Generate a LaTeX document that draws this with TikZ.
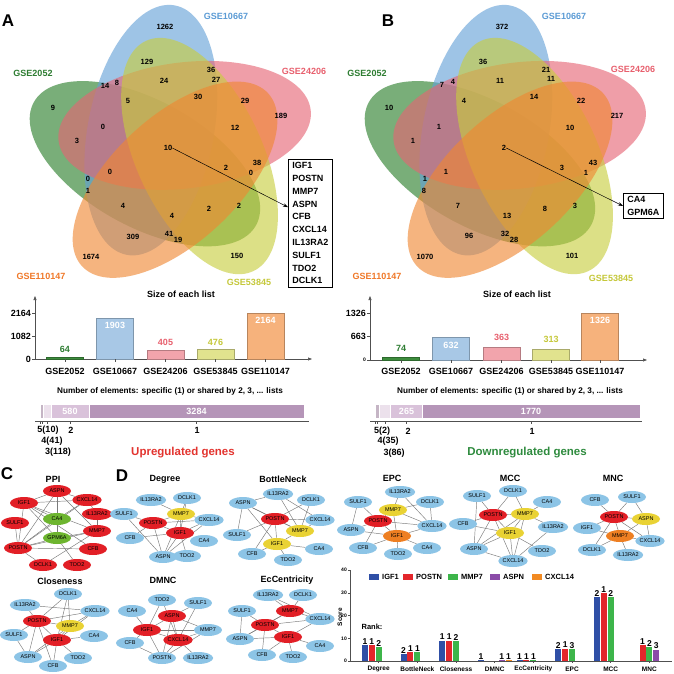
\documentclass[tikz,border=0pt]{standalone}
\usepackage{fontspec}
\setmainfont{Liberation Sans}
\usetikzlibrary{shapes.geometric,arrows.meta}
\pgfdeclarelayer{bg}
\pgfsetlayers{bg,main}

\definecolor{vgrn}{RGB}{40,125,40}
\definecolor{vblu}{RGB}{100,160,215}
\definecolor{vred}{RGB}{230,100,115}
\definecolor{vyel}{RGB}{200,205,60}
\definecolor{vora}{RGB}{240,135,50}
\definecolor{tgrn}{HTML}{2E7D32}
\definecolor{tblu}{HTML}{5B9BD5}
\definecolor{tred}{HTML}{E8606E}
\definecolor{tyel}{HTML}{C5C83A}
\definecolor{tora}{HTML}{F07828}
\definecolor{bgrn}{HTML}{3C8C3C}
\definecolor{bblu}{HTML}{A8C8E6}
\definecolor{bred}{HTML}{F2A4AC}
\definecolor{byel}{HTML}{E1E38E}
\definecolor{bora}{HTML}{F6B27C}
\definecolor{s1}{HTML}{B595B8}
\definecolor{s2}{HTML}{D9C2DA}
\definecolor{s3}{HTML}{ECE1EC}
\definecolor{s4}{HTML}{C5B5C5}
\definecolor{s5}{HTML}{8F8F8F}
\definecolor{nblu}{HTML}{8CC4E6}
\definecolor{nred}{HTML}{E21F26}
\definecolor{nyel}{HTML}{E9D234}
\definecolor{nora}{HTML}{EE7F22}
\definecolor{ngrn}{HTML}{6DB52F}
\definecolor{ecol}{HTML}{7A7A7A}
\definecolor{axcol}{HTML}{505050}
\definecolor{cigf}{HTML}{2F4FA6}
\definecolor{cpos}{HTML}{E3262B}
\definecolor{cmmp}{HTML}{3DB54A}
\definecolor{casp}{HTML}{8B4CA8}
\definecolor{ccx}{HTML}{F28A22}
\definecolor{upred}{HTML}{E3342F}
\definecolor{dngrn}{HTML}{2E8B3E}

\tikzset{
  panel/.style={font=\fontsize{17}{17}\selectfont\bfseries,inner sep=0pt},
  setname/.style={font=\fontsize{9}{9}\selectfont\bfseries,inner sep=0pt},
  num/.style={font=\fontsize{7.5}{7.5}\selectfont\bfseries,inner sep=0pt},
  lbl/.style={font=\fontsize{9}{9}\selectfont\bfseries,inner sep=0pt},
  ticklbl/.style={font=\fontsize{5}{5}\selectfont\bfseries,inner sep=0pt},
  genebox/.style={draw,line width=0.8pt,align=left,font=\fontsize{9}{12.8}\selectfont\bfseries,inner xsep=4pt,inner ysep=3pt},
  gene/.style={ellipse,minimum width=28pt,minimum height=12pt,inner sep=0pt,font=\fontsize{5.5}{5.5}\selectfont},
  gblue/.style={gene,fill=nblu},
  gred/.style={gene,fill=nred},
  gyel/.style={gene,fill=nyel},
  gora/.style={gene,fill=nora},
  ggrn/.style={gene,fill=ngrn},
  link/.style={draw=ecol,line width=0.45pt},
  nettitle/.style={font=\fontsize{9}{9}\selectfont\bfseries,inner sep=0pt},
  axline/.style={draw=axcol,line width=0.6pt},
  arr/.style={-{Triangle[length=4pt,width=3pt]}},
  rank/.style={font=\fontsize{8.5}{8.5}\selectfont\bfseries,inner sep=0pt},
  leg/.style={font=\fontsize{7.5}{7.5}\selectfont\bfseries,inner sep=0pt},
  catlbl/.style={font=\fontsize{6.5}{6.5}\selectfont\bfseries,inner sep=0pt},
  regtitle/.style={font=\fontsize{11.5}{11.5}\selectfont\bfseries,inner sep=0pt},
}

\begin{document}
\begin{tikzpicture}[x=1pt,y=-1pt]
\useasboundingbox (0,0) rectangle (673,674);
\begin{pgfonlayer}{bg}
\fill[white] (0,0) rectangle (673,674);
\end{pgfonlayer}

% ---------- A: Venn of upregulated genes
\foreach \k/\c in {2/vgrn,1/vblu,0/vred,4/vyel,3/vora}
  \fill[\c,fill opacity=0.62,shift={(171,151)},rotate=7+72*\k] (55:29pt) ellipse [x radius=127pt,y radius=63pt];
\node[panel] (pA) at (8,21) {A};
\node[setname,text=tblu] (la1) at (226,16) {GSE10667};
\node[setname,text=tgrn] (la2) at (33,73) {GSE2052};
\node[setname,text=tred] (la3) at (304,71) {GSE24206};
\node[setname,text=tora] (la4) at (41,276) {GSE110147};
\node[setname,text=tyel] (la5) at (249,282) {GSE53845};
\foreach \x/\y/\v [count=\i] in {165/27/1262,147/62/129,211/70/36,216/80/27,164/81/24,105/86/14,117/83/8,53/108/9,128/101/5,198/97/30,245/101/29,281/116/189,103/127/0,235/128/12,77/141/3,168/148/10,257/163/38,226/168/2,251/173/0,110/172/0,88/179/0,88/191/1,123/206/4,239/206/2,209/209/2,172/216/4,133/237/309,169/234/41,178/240/19,91/257/1674,237/256/150}
  \node[num] (a\i) at (\x,\y) {\v};
\node[genebox,anchor=north west] (boxA) at (288,159) {IGF1\\POSTN\\MMP7\\ASPN\\CFB\\CXCL14\\IL13RA2\\SULF1\\TDO2\\DCLK1};
\draw[-{Stealth[length=5pt,width=3.5pt]},line width=0.5pt] (a16.east) -- ([yshift=16pt]boxA.west);

% ---------- B: Venn of downregulated genes
\foreach \k/\c in {2/vgrn,1/vblu,0/vred,4/vyel,3/vora}
  \fill[\c,fill opacity=0.62,shift={(506,151)},rotate=7+72*\k] (55:29pt) ellipse [x radius=127pt,y radius=63pt];
\node[panel] (pB) at (388,21) {B};
\node[setname,text=tblu] (lb1) at (564,16) {GSE10667};
\node[setname,text=tgrn] (lb2) at (367,73) {GSE2052};
\node[setname,text=tred] (lb3) at (633,69) {GSE24206};
\node[setname,text=tora] (lb4) at (377,276) {GSE110147};
\node[setname,text=tyel] (lb5) at (611,278) {GSE53845};
\foreach \x/\y/\v [count=\i] in {502/27/372,483/62/36,546/70/21,551/79/11,500/81/11,442/85/7,453/82/4,389/108/10,464/101/4,534/97/14,581/101/22,617/116/217,439/127/1,570/128/10,413/141/1,504/148/2,593/163/43,562/168/3,586/173/1,446/172/1,425/179/1,424/191/8,458/206/7,575/206/3,545/209/8,507/216/13,469/236/96,505/234/32,514/240/28,425/257/1070,572/256/101}
  \node[num] (b\i) at (\x,\y) {\v};
\node[genebox,anchor=north west] (boxB) at (623,193) {CA4\\GPM6A};
\draw[-{Stealth[length=5pt,width=3.5pt]},line width=0.5pt] (b16.east) -- (boxB.west);

% ---------- list sizes, A
\node[lbl] (sizeA) at (181,294) {Size of each list};
\draw[axline,arr] (35,359) -- (35,296);
\draw[axline,arr] (35,359) -- (312,359);
\foreach \y/\v [count=\i] in {313/2164,336/1082,359/0}{
  \draw[axline] (32,\y) -- (35,\y);
  \node[lbl,anchor=east] (ya\i) at (31,\y) {\v};
}
\foreach \x/\t/\f in {65/357.6/bgrn,115/318.5/bblu,165.5/350.4/bred,215.5/348.9/byel,265.5/313/bora}
  \filldraw[fill=\f,draw=\f!75!black,line width=0.4pt] (\x-18.5,359) rectangle (\x+18.5,\t);
\foreach \x/\n [count=\i] in {65/GSE2052,115/GSE10667,165.5/GSE24206,215.5/GSE53845,265.5/GSE110147}{
  \draw[axline] (\x,359) -- (\x,362);
  \node[lbl] (ca\i) at (\x,371) {\n};
}
\node[lbl,text=tgrn] (va1) at (65,349) {64};
\node[lbl,text=white] (va2) at (115,325) {1903};
\node[lbl,text=tred] (va3) at (165.5,342) {405};
\node[lbl,text=tyel] (va4) at (215.5,342) {476};
\node[lbl,text=white] (va5) at (265.5,320) {2164};

\node[font=\fontsize{8.2}{8.2}\selectfont\bfseries,inner sep=0pt] (shA) at (170,391) {Number of elements: specific (1) or shared by 2, 3, ... lists};
\foreach \l/\r/\f in {40/40.65/s5,40.65/43.3/s4,43.3/51/s3,51/89/s2,89/304/s1}
  \filldraw[fill=\f,draw=white,line width=0.5pt] (\l,404) rectangle (\r,418);
\node[lbl,text=white] (sa2) at (70,411) {580};
\node[lbl,text=white] (sa1) at (196.5,411) {3284};
\draw[axline] (35,421) -- (309,421);
\foreach \x in {40.3,42,47,70,196.5}
  \draw[axline] (\x,421) -- (\x,424);
\node[lbl] (ka1) at (48,430) {5(10)};
\node[lbl] (ka2) at (71,430) {2};
\node[lbl] (ka3) at (197,430) {1};
\node[lbl] (ka4) at (52,441) {4(41)};
\node[lbl] (ka5) at (58,452) {3(118)};
\node[regtitle,text=upred] (upA) at (183,453) {Upregulated genes};

% ---------- list sizes, B
\node[lbl] (sizeB) at (517,294) {Size of each list};
\draw[axline,arr] (370,360) -- (370,296);
\draw[axline,arr] (370,360) -- (647,360);
\foreach \y/\v [count=\i] in {313/1326,336.5/663}{
  \draw[axline] (367,\y) -- (370,\y);
  \node[lbl,anchor=east] (yb\i) at (366,\y) {\v};
}
\draw[axline] (367,360) -- (370,360);
\node[ticklbl,anchor=east] (yb3) at (366,360) {0};
\foreach \x/\t/\f in {401/357.4/bgrn,451/337.6/bblu,501.5/347.1/bred,551/348.9/byel,600/313/bora}
  \filldraw[fill=\f,draw=\f!75!black,line width=0.4pt] (\x-18.5,360) rectangle (\x+18.5,\t);
\foreach \x/\n [count=\i] in {401/GSE2052,451/GSE10667,501.5/GSE24206,551/GSE53845,600/GSE110147}{
  \draw[axline] (\x,360) -- (\x,363);
  \node[lbl] (cb\i) at (\x,371) {\n};
}
\node[lbl,text=tgrn] (vb1) at (401,348) {74};
\node[lbl,text=white] (vb2) at (451,345) {632};
\node[lbl,text=tred] (vb3) at (501.5,337) {363};
\node[lbl,text=tyel] (vb4) at (551,339) {313};
\node[lbl,text=white] (vb5) at (600,320) {1326};

\node[font=\fontsize{8.2}{8.2}\selectfont\bfseries,inner sep=0pt] (shB) at (510,391) {Number of elements: specific (1) or shared by 2, 3, ... lists};
\foreach \l/\r/\f in {375/375.3/s5,375.3/379.6/s4,379.6/390.2/s3,390.2/422.7/s2,422.7/640/s1}
  \filldraw[fill=\f,draw=white,line width=0.5pt] (\l,404) rectangle (\r,418);
\node[lbl,text=white] (sb2) at (406.5,411) {265};
\node[lbl,text=white] (sb1) at (531,411) {1770};
\draw[axline] (370,421) -- (642,421);
\foreach \x in {375.1,377.5,385,406.5,531}
  \draw[axline] (\x,421) -- (\x,424);
\node[lbl] (kb1) at (382,431) {5(2)};
\node[lbl] (kb2) at (408,431) {2};
\node[lbl] (kb3) at (532,431) {1};
\node[lbl] (kb4) at (388,441) {4(35)};
\node[lbl] (kb5) at (394,453) {3(86)};
\node[regtitle,text=dngrn] (dnB) at (527,453) {Downregulated genes};

% ---------- C: PPI and Closeness
\node[panel] (pC) at (7,474) {C};
\node[nettitle] (tPPI) at (53,479) {PPI};
\foreach \n/\x/\y/\s in {ASPN/57/491/gred,IGF1/24/503/gred,CXCL14/87/500/gred,IL13RA2/97/514/gred,CA4/57/519/ggrn,SULF1/15/523/gred,MMP7/97/531/gred,GPM6A/57/538/ggrn,POSTN/18/548/gred,CFB/93/549/gred,DCLK1/43/565/gred,TDO2/77/565/gred}
  \node[\s] (p\n) at (\x,\y) {\n};
\begin{pgfonlayer}{bg}
\foreach \a/\b in {ASPN/IGF1,ASPN/CXCL14,ASPN/CA4,ASPN/POSTN,ASPN/GPM6A,ASPN/MMP7,IGF1/CXCL14,IGF1/CA4,IGF1/GPM6A,IGF1/MMP7,IGF1/POSTN,IGF1/CFB,CXCL14/IL13RA2,CXCL14/CA4,CXCL14/POSTN,SULF1/POSTN,CA4/POSTN,MMP7/GPM6A,MMP7/POSTN,MMP7/DCLK1,POSTN/CFB,POSTN/DCLK1,POSTN/GPM6A,GPM6A/TDO2,IL13RA2/MMP7}
  \draw[link] (p\a) -- (p\b);
\end{pgfonlayer}

\node[nettitle] (tClo) at (60,581) {Closeness};
\foreach \n/\x/\y/\s in {DCLK1/68/594/gblue,IL13RA2/25/605/gblue,CXCL14/95/611/gblue,POSTN/37/621/gred,MMP7/70/626/gyel,SULF1/14/635/gblue,CA4/94/636/gblue,IGF1/57/640/gred,ASPN/28/657/gblue,TDO2/78/658/gblue,CFB/53/666/gblue}
  \node[\s] (c\n) at (\x,\y) {\n};
\begin{pgfonlayer}{bg}
\foreach \a/\b in {DCLK1/POSTN,DCLK1/MMP7,DCLK1/IGF1,IL13RA2/POSTN,IL13RA2/CXCL14,CXCL14/POSTN,CXCL14/MMP7,CXCL14/IGF1,POSTN/MMP7,POSTN/IGF1,POSTN/SULF1,POSTN/ASPN,POSTN/CFB,MMP7/IGF1,MMP7/ASPN,IGF1/CA4,IGF1/TDO2,IGF1/CFB,IGF1/ASPN,SULF1/ASPN}
  \draw[link] (c\a) -- (c\b);
\end{pgfonlayer}

% ---------- D: hub gene rankings
\node[panel] (pD) at (122,476) {D};
\node[nettitle] (tDeg) at (165,479) {Degree};
\foreach \n/\x/\y/\s in {IL13RA2/151/500/gblue,DCLK1/187/498/gblue,SULF1/124/514/gblue,MMP7/181/514/gyel,CXCL14/209/520/gblue,POSTN/153/523/gred,IGF1/180/533/gred,CFB/130/538/gblue,CA4/204/541/gblue,ASPN/163/557/gblue,TDO2/187/556/gblue}
  \node[\s] (d\n) at (\x,\y) {\n};
\begin{pgfonlayer}{bg}
\foreach \a/\b in {IL13RA2/MMP7,DCLK1/MMP7,SULF1/POSTN,SULF1/ASPN,MMP7/POSTN,MMP7/IGF1,MMP7/CXCL14,MMP7/ASPN,POSTN/IGF1,POSTN/CXCL14,POSTN/CFB,POSTN/ASPN,IGF1/CXCL14,IGF1/CFB,IGF1/ASPN,IGF1/TDO2,CXCL14/ASPN,DCLK1/IGF1}
  \draw[link] (d\a) -- (d\b);
\end{pgfonlayer}

\node[nettitle] (tBot) at (283,479) {BottleNeck};
\foreach \n/\x/\y/\s in {IL13RA2/278/494/gblue,DCLK1/311/500/gblue,ASPN/243/503/gblue,POSTN/275/519/gred,CXCL14/320/520/gblue,MMP7/300/531/gyel,SULF1/237/535/gblue,IGF1/277/544/gyel,CFB/252/554/gblue,CA4/319/549/gblue,TDO2/288/560/gblue}
  \node[\s] (b\n) at (\x,\y) {\n};
\begin{pgfonlayer}{bg}
\foreach \a/\b in {ASPN/IL13RA2,ASPN/POSTN,ASPN/MMP7,ASPN/SULF1,ASPN/IGF1,IL13RA2/MMP7,IL13RA2/CXCL14,DCLK1/POSTN,DCLK1/MMP7,POSTN/CXCL14,POSTN/MMP7,POSTN/IGF1,POSTN/SULF1,POSTN/CFB,MMP7/IGF1,MMP7/CXCL14,IGF1/CFB,IGF1/CA4,IGF1/TDO2}
  \draw[link] (b\a) -- (b\b);
\end{pgfonlayer}

\node[nettitle] (tDmn) at (163,580) {DMNC};
\foreach \n/\x/\y/\s in {TDO2/162/600/gblue,SULF1/198/603/gblue,CA4/132/611/gblue,ASPN/172/616/gred,IGF1/147/630/gred,MMP7/208/630/gblue,CXCL14/178/640/gred,CFB/130/643/gblue,POSTN/162/658/gblue,IL13RA2/198/658/gblue}
  \node[\s] (m\n) at (\x,\y) {\n};
\begin{pgfonlayer}{bg}
\foreach \a/\b in {TDO2/IGF1,TDO2/CXCL14,SULF1/ASPN,SULF1/CXCL14,CA4/IGF1,ASPN/IGF1,ASPN/CXCL14,ASPN/MMP7,ASPN/POSTN,IGF1/MMP7,IGF1/CXCL14,IGF1/CFB,IGF1/POSTN,MMP7/CXCL14,MMP7/POSTN,CXCL14/POSTN,CXCL14/IL13RA2,CFB/POSTN}
  \draw[link] (m\a) -- (m\b);
\end{pgfonlayer}

\node[nettitle] (tEcc) at (287,580) {EcCentricity};
\foreach \n/\x/\y/\s in {IL13RA2/268/595/gblue,DCLK1/303/595/gblue,SULF1/242/611/gblue,MMP7/290/611/gred,CXCL14/320/619/gblue,POSTN/265/625/gred,IGF1/288/637/gred,ASPN/240/639/gblue,CA4/320/646/gblue,CFB/262/655/gblue,TDO2/293/657/gblue}
  \node[\s] (e\n) at (\x,\y) {\n};
\begin{pgfonlayer}{bg}
\foreach \a/\b in {IL13RA2/MMP7,IL13RA2/CXCL14,DCLK1/MMP7,SULF1/POSTN,SULF1/ASPN,MMP7/POSTN,MMP7/CXCL14,MMP7/ASPN,POSTN/IGF1,POSTN/ASPN,POSTN/CXCL14,POSTN/CFB,IGF1/CXCL14,IGF1/ASPN,IGF1/CA4,IGF1/TDO2,IGF1/CFB}
  \draw[link] (e\a) -- (e\b);
\end{pgfonlayer}

\node[nettitle] (tEpc) at (392,478) {EPC};
\foreach \n/\x/\y/\s in {IL13RA2/400/492/gblue,SULF1/358/502/gblue,DCLK1/430/502/gblue,MMP7/393/510/gyel,POSTN/378/521/gred,CXCL14/432/526/gblue,ASPN/351/530/gblue,IGF1/397/536/gora,CFB/363/548/gblue,TDO2/398/554/gblue,CA4/427/548/gblue}
  \node[\s] (ep\n) at (\x,\y) {\n};
\begin{pgfonlayer}{bg}
\foreach \a/\b in {IL13RA2/MMP7,IL13RA2/CXCL14,SULF1/POSTN,DCLK1/MMP7,DCLK1/CXCL14,MMP7/POSTN,MMP7/IGF1,MMP7/CXCL14,POSTN/ASPN,POSTN/IGF1,POSTN/CXCL14,POSTN/CFB,ASPN/IGF1,ASPN/SULF1,IGF1/CXCL14,IGF1/CFB,IGF1/TDO2,IGF1/CA4}
  \draw[link] (ep\a) -- (ep\b);
\end{pgfonlayer}

\node[nettitle] (tMcc) at (510,478) {MCC};
\foreach \n/\x/\y/\s in {DCLK1/513/491/gblue,SULF1/477/496/gblue,CA4/547/502/gblue,POSTN/493/515/gred,MMP7/525/514/gyel,CFB/463/524/gblue,IL13RA2/553/527/gblue,IGF1/510/533/gyel,ASPN/474/549/gblue,TDO2/542/551/gblue,CXCL14/513/561/gblue}
  \node[\s] (mc\n) at (\x,\y) {\n};
\begin{pgfonlayer}{bg}
\foreach \a/\b in {SULF1/POSTN,SULF1/ASPN,DCLK1/POSTN,DCLK1/MMP7,CA4/MMP7,POSTN/MMP7,POSTN/IGF1,POSTN/CFB,POSTN/ASPN,POSTN/CXCL14,MMP7/IGF1,MMP7/IL13RA2,MMP7/ASPN,MMP7/CXCL14,CFB/IGF1,IGF1/ASPN,IGF1/CXCL14,IGF1/TDO2,ASPN/CXCL14,IL13RA2/CXCL14}
  \draw[link] (mc\a) -- (mc\b);
\end{pgfonlayer}

\node[nettitle] (tMnc) at (613,478) {MNC};
\foreach \n/\x/\y/\s in {CFB/595/500/gblue,SULF1/632/497/gblue,POSTN/614/517/gred,ASPN/646/519/gyel,IGF1/587/528/gblue,MMP7/620/536/gora,CXCL14/650/541/gblue,DCLK1/592/550/gblue,IL13RA2/628/555/gblue}
  \node[\s] (mn\n) at (\x,\y) {\n};
\begin{pgfonlayer}{bg}
\foreach \a/\b in {CFB/POSTN,SULF1/POSTN,SULF1/ASPN,POSTN/ASPN,POSTN/IGF1,POSTN/MMP7,POSTN/CXCL14,POSTN/DCLK1,ASPN/MMP7,ASPN/CXCL14,IGF1/MMP7,MMP7/CXCL14,MMP7/DCLK1,MMP7/IL13RA2}
  \draw[link] (mn\a) -- (mn\b);
\end{pgfonlayer}

% ---------- D: scores of the hub genes
\draw[axline] (350,661) -- (350,570);
\draw[axline] (350,661) -- (672,661);
\foreach \v [count=\i] in {0,10,20,30,40}{
  \draw[axline] (348,661-\v*2.27) -- (350,661-\v*2.27);
  \node[ticklbl,anchor=east] (yt\i) at (347,661-\v*2.27) {\v};
}
\node[font=\fontsize{6.5}{6.5}\selectfont\bfseries,inner sep=0pt,rotate=90] (score) at (340,617) {Score};
\node[leg] (rankl) at (372,627) {Rank:};
\foreach \n [count=\i from 0] in {Degree,BottleNeck,Closeness,DMNC,EcCentricity,EPC,MCC,MNC}{
  \draw[axline] (378.7+38.67*\i,661) -- (378.7+38.67*\i,663);
  \node[catlbl] (cat\i) at (378.7+38.67*\i,669) {\n};
}
\foreach \g/\k/\v/\r/\c [count=\i] in {0/0/7/1/cigf,0/1/7/1/cpos,0/2/6/2/cmmp,1/0/3/2/cigf,1/1/4/1/cpos,1/2/4/1/cmmp,2/0/9/1/cigf,2/1/9/1/cpos,2/2/8.7/2/cmmp,3/0/0.5/1/cigf,3/3/0.5/1/casp,3/4/0.5/1/ccx,4/0/0.5/1/cigf,4/1/0.5/1/cpos,4/2/0.5/1/cmmp,5/0/5.4/2/cigf,5/1/5.5/1/cpos,5/2/5.2/3/cmmp,6/0/28/2/cigf,6/1/30/1/cpos,6/2/28/2/cmmp,7/1/7/1/cpos,7/2/6/2/cmmp,7/3/5/3/casp}{
  \pgfmathsetmacro\xb{378.7+38.67*\g+(\k-2)*6.9}
  \pgfmathsetmacro\yt{661-\v*2.27}
  \fill[\c] (\xb-3,661) rectangle (\xb+3,\yt);
  \node[rank,anchor=south] (rk\i) at (\xb,\yt-0.5) {\r};
}
\foreach \x/\c/\n [count=\i] in {369/cigf/IGF1,403/cpos/POSTN,448/cmmp/MMP7,490/casp/ASPN,532/ccx/CXCL14}{
  \fill[\c] (\x,574) rectangle (\x+10,580);
  \node[leg,anchor=west] (lg\i) at (\x+13,577) {\n};
}
\end{tikzpicture}
\end{document}
